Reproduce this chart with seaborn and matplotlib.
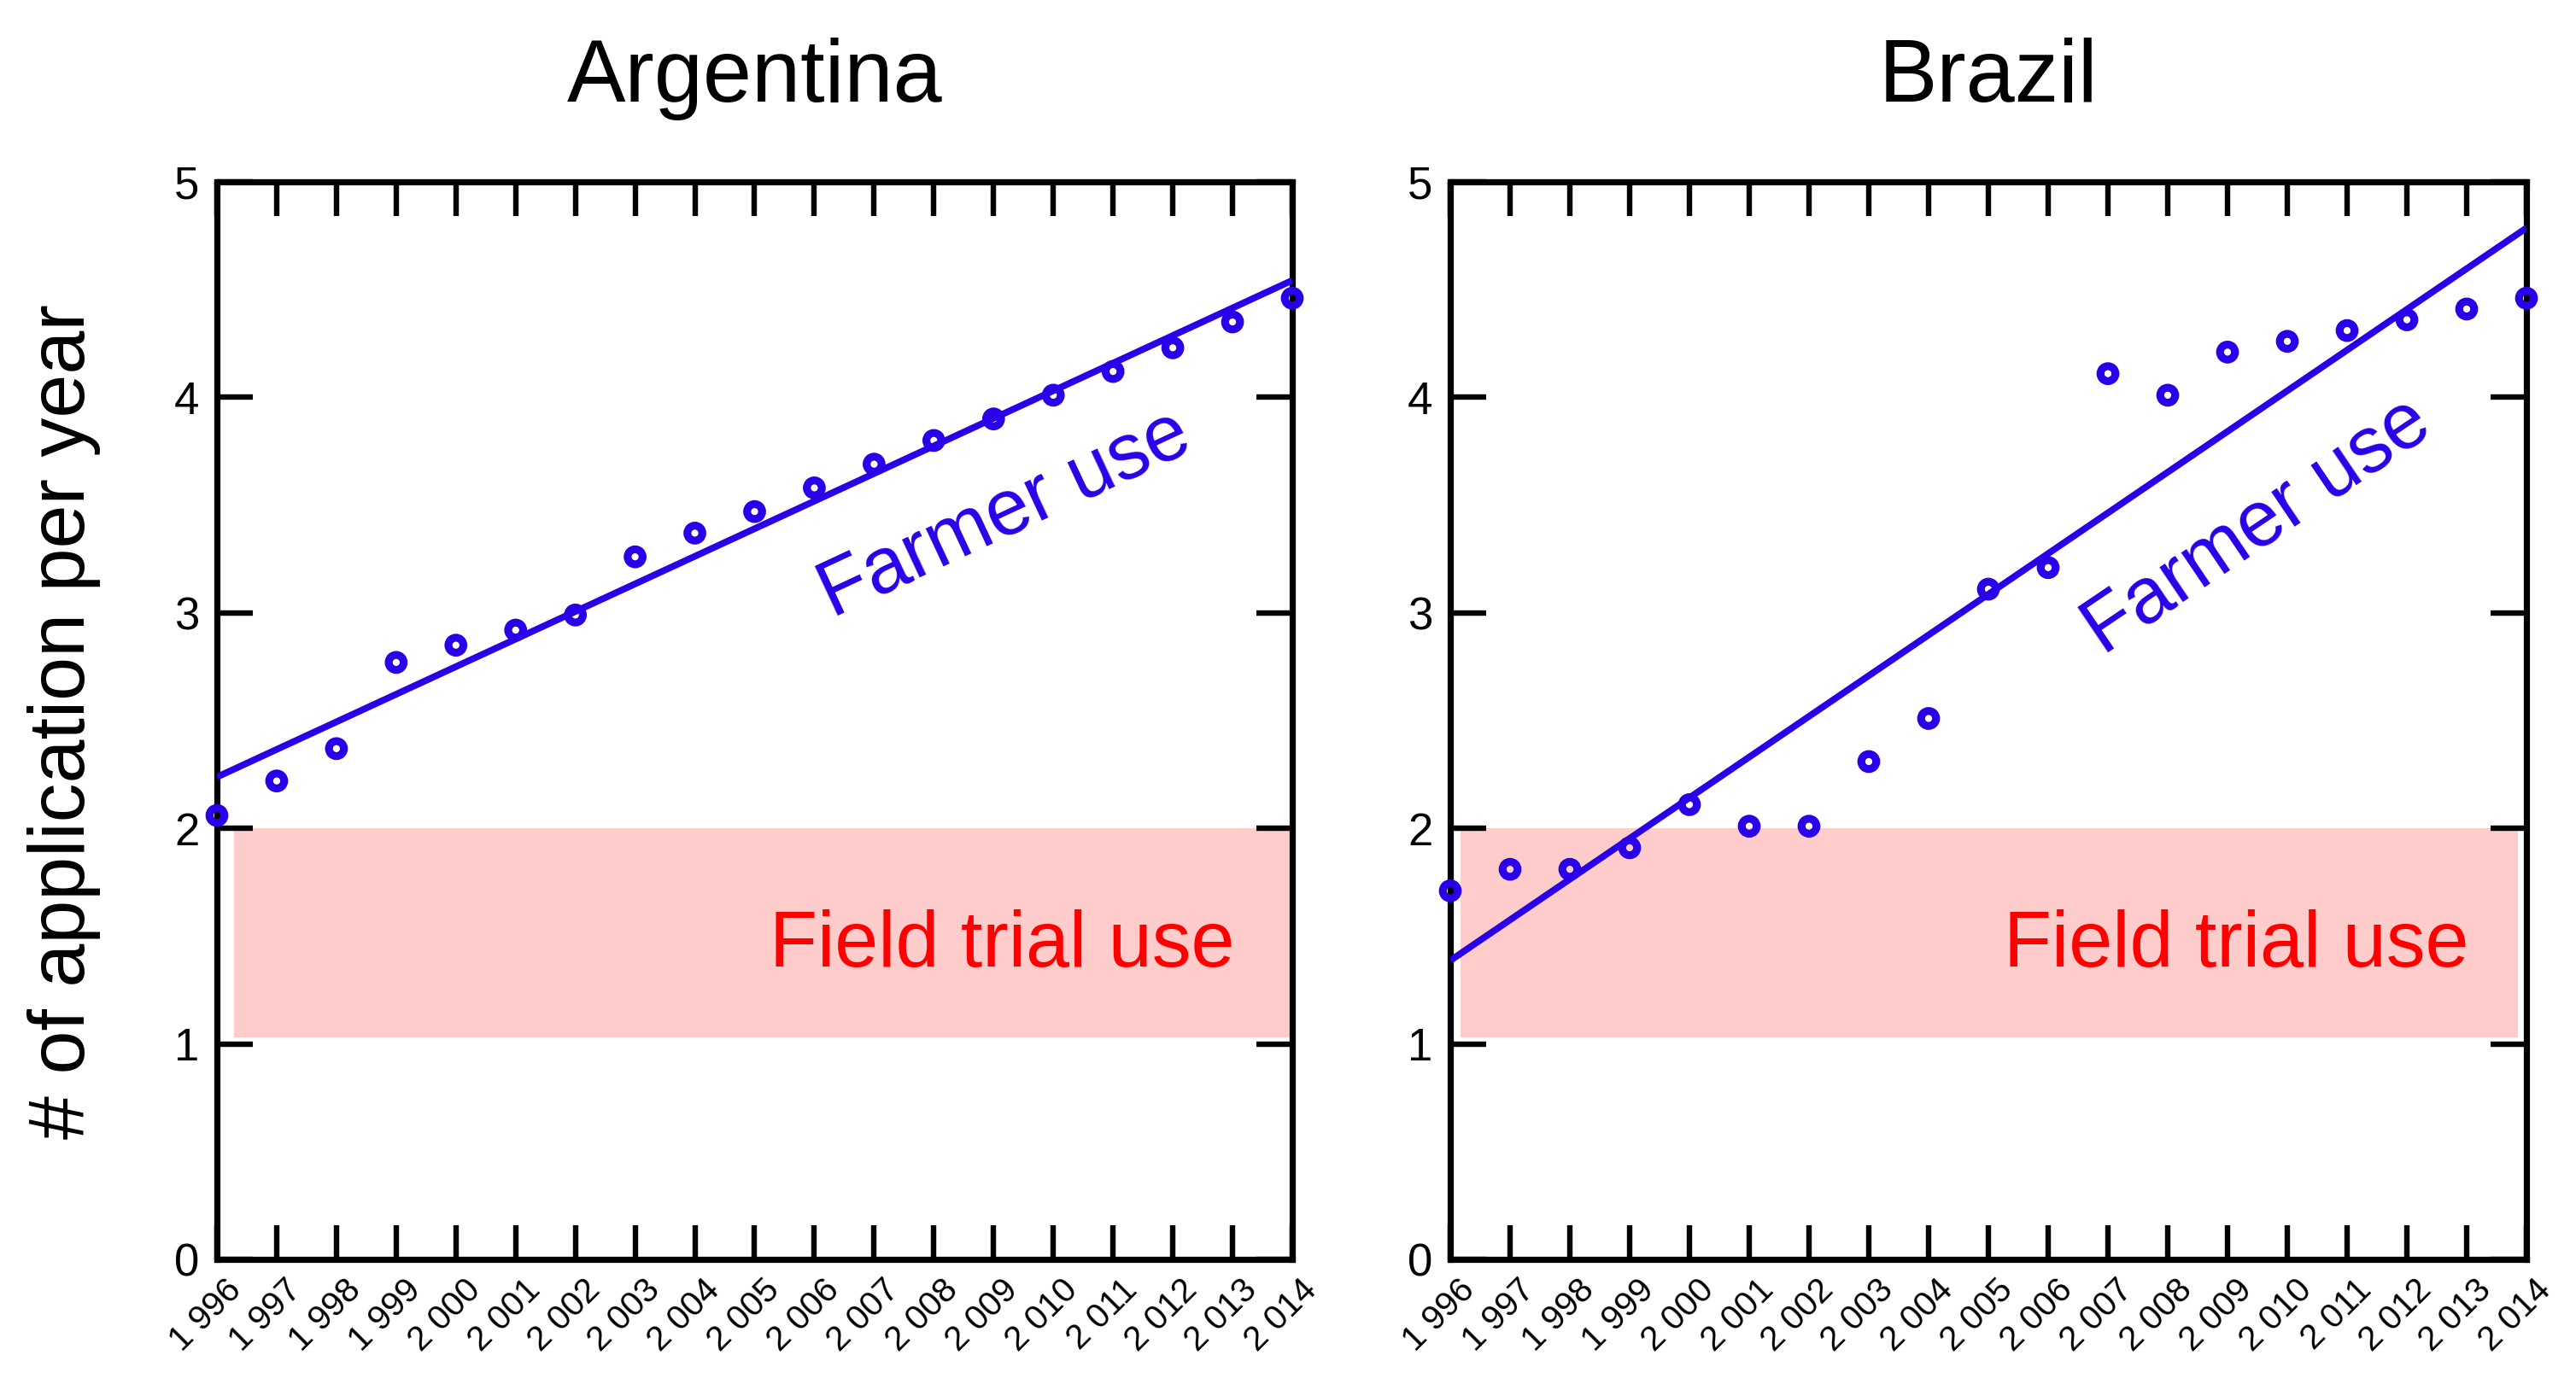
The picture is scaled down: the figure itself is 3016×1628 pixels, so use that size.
import numpy as np
import pandas as pd
import matplotlib
matplotlib.use("Agg")
import matplotlib.pyplot as plt
from matplotlib.transforms import ScaledTranslation
import seaborn as sns

# ---------------- data ----------------
years = list(range(1996, 2015))
argentina_values = [2.06, 2.22, 2.37, 2.77, 2.85, 2.92, 2.99, 3.26, 3.37, 3.47,
                    3.58, 3.69, 3.80, 3.90, 4.01, 4.12, 4.23, 4.35, 4.46]
brazil_values = [1.71, 1.81, 1.81, 1.91, 2.11, 2.01, 2.01, 2.31, 2.51, 3.11,
                 3.21, 4.11, 4.01, 4.21, 4.26, 4.31, 4.36, 4.41, 4.46]
xtick_labels = ["1 996", "1 997", "1 998", "1 999", "2 000", "2 001", "2 002",
                "2 003", "2 004", "2 005", "2 006", "2 007", "2 008", "2 009",
                "2 010", "2 011", "2 012", "2 013", "2 014"]
ytick_values = [0, 1, 2, 3, 4, 5]
countries = ["Argentina", "Brazil"]
field_trial_low = 1.03
field_trial_high = 2.0
field_trial_x = {"Argentina": [1996.29, 2014.0], "Brazil": [1996.17, 2013.86]}
ylabel_text = "# of application per year"

# ---------------- style ----------------
sns.set_theme(style="white")
plt.rcParams["font.family"] = ["Liberation Sans", "DejaVu Sans"]
plt.rcParams["axes.edgecolor"] = "black"
plt.rcParams["text.color"] = "black"
plt.rcParams["axes.labelcolor"] = "black"
plt.rcParams["xtick.color"] = "black"
plt.rcParams["ytick.color"] = "black"

BLUE = "#2A00E8"
PINK = "#FFCCCC"
RED = "#FF0000"

df = pd.DataFrame({
    "year": years * 2,
    "value": argentina_values + brazil_values,
    "country": ["Argentina"] * len(years) + ["Brazil"] * len(years),
})

W, H, DPI = 3016, 1628, 200
fig = plt.figure(figsize=(W / DPI, H / DPI), dpi=DPI)
axes_rects = {
    "Argentina": [254 / W, 1 - 1475 / H, 1259 / W, 1262 / H],
    "Brazil": [1698 / W, 1 - 1475 / H, 1260 / W, 1262 / H],
}
farmer_text = {
    "Argentina": (2009.2, 3.455, 25),
    "Brazil": (2009.5, 3.40, 34),
}

for country in countries:
    ax = fig.add_axes(axes_rects[country])
    sub = df[df["country"] == country]

    lo, hi = field_trial_x[country]
    ax.fill_between([lo, hi], field_trial_low, field_trial_high,
                    color=PINK, linewidth=0, zorder=0.5)

    sns.regplot(data=sub, x="year", y="value", ax=ax, ci=None, color=BLUE,
                truncate=True,
                scatter_kws=dict(s=40, facecolors="none", edgecolors=BLUE,
                                 linewidths=3.3, alpha=1, zorder=4, clip_on=False),
                line_kws=dict(linewidth=2.8, zorder=3, solid_capstyle="butt"))

    ax.set_xlim(1996, 2014)
    ax.set_ylim(0, 5)
    ax.set_xlabel("")
    ax.set_ylabel("")

    ax.set_xticks(years)
    ax.set_xticklabels(xtick_labels, rotation=45, ha="right", fontsize=14.5)
    ax.set_yticks(ytick_values)
    ax.set_yticklabels([str(v) for v in ytick_values], fontsize=19)

    ax.tick_params(axis="x", direction="in", length=14.5, width=2.3,
                   top=True, bottom=True, pad=6, colors="black")
    ax.tick_params(axis="y", direction="in", length=15, width=2.3,
                   left=True, right=True, pad=7.5, colors="black")
    for lab in ax.get_xticklabels():
        lab.set_transform(lab.get_transform() +
                          ScaledTranslation(13 / 72, 0, fig.dpi_scale_trans))

    for sp in ax.spines.values():
        sp.set_visible(True)
        sp.set_linewidth(2.6)
        sp.set_color("black")
        sp.set_zorder(2.5)

    ax.set_title(country, fontsize=37, pad=34, color="black")

    ax.text(2013.03, 1.36, "Field trial use", color=RED, fontsize=33,
            ha="right", va="baseline", zorder=2)
    fx, fy, rot = farmer_text[country]
    ax.text(fx, fy, "Farmer use", color=BLUE, fontsize=33, rotation=rot,
            rotation_mode="anchor", ha="center", va="center", zorder=2)

fig.text(75 / W, 783 / H, ylabel_text, rotation=90, fontsize=33,
         ha="center", va="center", color="black")

fig.savefig("out.png", dpi=DPI, facecolor="white")
